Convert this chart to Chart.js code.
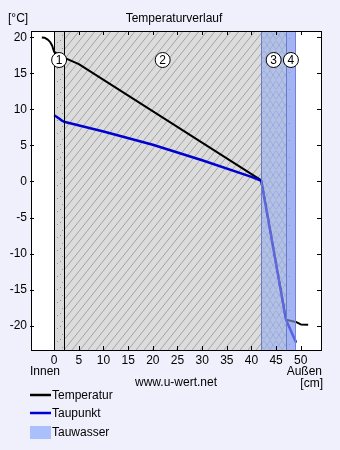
<!DOCTYPE html>
<html><head><meta charset="utf-8">
<script src="https://cdn.jsdelivr.net/npm/chart.js@4.4.0/dist/chart.umd.min.js"></script>
<style>html,body{margin:0;padding:0;background:#f0f0fc;}canvas{display:block;}</style>
</head><body>
<canvas id="c" width="340" height="450"></canvas>
<script>
// ---- texts ----
const chartTitle = 'Temperaturverlauf';
const yUnit = '[°C]';
const xUnit = '[cm]';
const insideLabel = 'Innen';
const outsideLabel = 'Außen';
const sourceLabel = 'www.u-wert.net';
const seriesNames = ['Temperatur', 'Taupunkt', 'Tauwasser'];

// ---- ticks ----
const xTicks = [0, 5, 10, 15, 20, 25, 30, 35, 40, 45, 50];
const yTicks = [-20, -15, -10, -5, 0, 5, 10, 15, 20];

// ---- layers (cm) ----
const layerBounds = [0, 2, 42, 47, 49];
const layerNames = ['1', '2', '3', '4'];
const tauwasserLayers = [2, 3]; // indices of layers with condensation

// ---- series ----
const tempX = [-2.5, -1.9, -1.3, -0.8, -0.4, -0.1, 0, 2, 5, 42, 47, 49, 49.3, 50, 51.5];
const tempY = [20.0, 19.95, 19.7, 19.35, 18.85, 18.2, 18.0, 17.2, 16.3, 0.15, -19.2, -19.5, -19.6, -19.85, -19.9];
const dewX = [0, 1, 1.6, 2, 10, 20, 30, 40, 42, 47, 49];
const dewY = [9.2, 8.75, 8.45, 8.3, 6.95, 5.1, 2.95, 0.65, 0.1, -19.2, -22.3];

const FONT = '"Liberation Sans", Arial, sans-serif';
Chart.defaults.font.family = FONT;
Chart.defaults.font.size = 12;
Chart.defaults.color = '#000';

const cv = document.getElementById('c');
const c2d = cv.getContext('2d');

function makePattern(w, h, draw) {
  const pc = document.createElement('canvas');
  pc.width = w; pc.height = h;
  const g = pc.getContext('2d');
  draw(g, w, h);
  return c2d.createPattern(pc, 'repeat');
}
const patDots1 = makePattern(11, 13, (g) => {
  g.fillStyle = '#d9d9d9'; g.fillRect(0, 0, 11, 13);
  g.fillStyle = '#959595';
  g.fillRect(2, 3, 1, 1); g.fillRect(7, 9, 1, 1); g.fillRect(5, 1, 1, 1); g.fillRect(9, 5, 1, 1);
});
const patHatch = makePattern(8, 10, (g, w, h) => {
  g.fillStyle = '#dcdcdc'; g.fillRect(0, 0, w, h);
  g.strokeStyle = '#8c8c8c'; g.lineWidth = 0.7;
  g.beginPath();
  for (let k = -1; k <= 1; k++) { g.moveTo(k * w - 1, h + h / w); g.lineTo(k * w + w + 1, -h / w); }
  g.stroke();
});
const patZig = makePattern(12, 10, (g, w, h) => {
  g.fillStyle = '#b4c2e2'; g.fillRect(0, 0, w, h);
  g.strokeStyle = 'rgba(130,150,228,0.6)'; g.lineWidth = 0.8;
  g.beginPath();
  g.moveTo(0, 0.5); g.lineTo(6, h - 0.5); g.lineTo(12, 0.5);
  g.moveTo(0, h - 0.5); g.lineTo(6, 0.5); g.lineTo(12, h - 0.5);
  g.stroke();
});
const patDots4 = makePattern(13, 17, (g) => {
  g.fillStyle = '#a4b4f2'; g.fillRect(0, 0, 13, 17);
  g.fillStyle = '#8494dc';
  g.fillRect(3, 4, 1, 1); g.fillRect(9, 12, 1, 1);
});
const layerFills = [patDots1, patHatch, patZig, patDots4];

function drawLayer(chart, i) {
  const { ctx, chartArea: a, scales: { x } } = chart;
  const x0 = x.getPixelForValue(layerBounds[i]);
  const x1 = x.getPixelForValue(layerBounds[i + 1]);
  ctx.fillStyle = layerFills[i];
  ctx.fillRect(x0, a.top, x1 - x0, a.bottom - a.top);
}
function vline(ctx, px, a, color) {
  ctx.strokeStyle = color; ctx.lineWidth = 1;
  ctx.beginPath(); ctx.moveTo(Math.round(px) + 0.5, a.top); ctx.lineTo(Math.round(px) + 0.5, a.bottom); ctx.stroke();
}

const deco = {
  id: 'deco',
  beforeDraw(chart) {
    const { ctx, width, height, chartArea: a } = chart;
    ctx.save();
    ctx.fillStyle = '#f0f0fc'; ctx.fillRect(0, 0, width, height);
    ctx.fillStyle = '#ffffff'; ctx.fillRect(a.left, a.top, a.right - a.left, a.bottom - a.top);
    ctx.restore();
  },
  beforeDatasetsDraw(chart) {
    const { ctx } = chart;
    ctx.save();
    for (let i = 0; i < layerNames.length; i++) drawLayer(chart, i);
    ctx.restore();
  },
  afterDatasetsDraw(chart) {
    const { ctx, chartArea: a, scales: { x, y } } = chart;
    ctx.save();
    // condensation layers veil the curves
    ctx.globalAlpha = 0.55;
    tauwasserLayers.forEach(i => drawLayer(chart, i));
    ctx.globalAlpha = 1;
    // layer borders
    vline(ctx, x.getPixelForValue(layerBounds[0]), a, '#000');
    vline(ctx, x.getPixelForValue(layerBounds[1]), a, '#000');
    vline(ctx, x.getPixelForValue(layerBounds[2]), a, '#6a7bc6');
    vline(ctx, x.getPixelForValue(layerBounds[3]), a, '#6a7bc6');
    vline(ctx, x.getPixelForValue(layerBounds[4]) - 1, a, '#6f84e0');
    // frame
    ctx.strokeStyle = '#000'; ctx.lineWidth = 1;
    ctx.strokeRect(a.left + 0.5, a.top + 0.5, a.right - a.left, a.bottom - a.top);
    // inward ticks
    ctx.beginPath();
    xTicks.forEach(v => {
      const p = Math.round(x.getPixelForValue(v)) + 0.5;
      ctx.moveTo(p, a.bottom); ctx.lineTo(p, a.bottom - 4);
      ctx.moveTo(p, a.top); ctx.lineTo(p, a.top + 4);
    });
    yTicks.forEach(v => {
      const p = Math.round(y.getPixelForValue(v)) + 0.5;
      ctx.moveTo(a.left - 1, p); ctx.lineTo(a.left + 3, p);
      ctx.moveTo(a.right + 1, p); ctx.lineTo(a.right - 4, p);
    });
    ctx.stroke();
    // layer number circles
    const cy = a.top + 29;
    ctx.font = '12px ' + FONT;
    ctx.textAlign = 'center'; ctx.textBaseline = 'middle';
    layerNames.forEach((n, i) => {
      const cx = x.getPixelForValue((layerBounds[i] + layerBounds[i + 1]) / 2);
      ctx.beginPath(); ctx.arc(cx, cy, 7.5, 0, Math.PI * 2);
      ctx.fillStyle = '#fff'; ctx.fill();
      ctx.strokeStyle = '#000'; ctx.lineWidth = 1; ctx.stroke();
      ctx.fillStyle = '#000'; ctx.fillText(n, cx, cy + 0.5);
    });
    ctx.restore();
  },
  afterDraw(chart) {
    const { ctx, chartArea: a } = chart;
    ctx.save();
    ctx.fillStyle = '#000';
    ctx.font = '12px ' + FONT;
    ctx.textBaseline = 'middle';
    ctx.textAlign = 'center';
    ctx.fillText(chartTitle, 174, 19);
    ctx.fillText(sourceLabel, (a.left + a.right) / 2, 383);
    ctx.textAlign = 'left';
    ctx.fillText(yUnit, 8, 19);
    ctx.fillText(insideLabel, 30, 372);
    ctx.textAlign = 'right';
    ctx.fillText(outsideLabel, a.right + 1, 372);
    ctx.fillText(xUnit, a.right + 2, 384);
    // legend
    ctx.textAlign = 'left';
    const ds = chart.data.datasets;
    const ly = [395, 413];
    ds.forEach((d, i) => {
      ctx.strokeStyle = d.borderColor; ctx.lineWidth = 2.5;
      ctx.beginPath(); ctx.moveTo(30, ly[i]); ctx.lineTo(51, ly[i]); ctx.stroke();
      ctx.fillStyle = '#000'; ctx.fillText(d.label, 52, ly[i] + 0.5);
    });
    ctx.fillStyle = '#aac0fc';
    ctx.fillRect(30, 426, 21, 13);
    ctx.fillStyle = '#000';
    ctx.fillText(seriesNames[2], 52, 432.5);
    ctx.restore();
  }
};

new Chart(cv, {
  type: 'line',
  data: {
    datasets: [
      {
        label: seriesNames[0],
        data: tempX.map((v, i) => ({ x: v, y: tempY[i] })),
        borderColor: '#000000', borderWidth: 2, pointRadius: 0, tension: 0,
        borderJoinStyle: 'round', order: 1
      },
      {
        label: seriesNames[1],
        data: dewX.map((v, i) => ({ x: v, y: dewY[i] })),
        borderColor: '#0000d0', borderWidth: 2.5, tension: 0,
        borderJoinStyle: 'round', order: 0,
        pointRadius: (c) => c.dataIndex === dewX.length - 1 ? 1.2 : 0,
        pointStyle: 'rect', pointBackgroundColor: '#1a1aff', pointBorderWidth: 0
      }
    ]
  },
  options: {
    responsive: false,
    animation: false,
    devicePixelRatio: 1,
    layout: { padding: { top: 31, right: 19, bottom: 0, left: 0 } },
    plugins: { legend: { display: false }, tooltip: { enabled: false }, title: { display: false } },
    scales: {
      x: {
        type: 'linear', min: -4.7, max: 54.1,
        grid: { display: false, drawTicks: false }, border: { display: false },
        afterBuildTicks: (ax) => { ax.ticks = xTicks.map(v => ({ value: v })); },
        afterFit: (ax) => { ax.height = 100; },
        ticks: { autoSkip: false, maxRotation: 0, padding: 3, color: '#000', font: { size: 12 } }
      },
      y: {
        type: 'linear', min: -23.4, max: 20.9,
        grid: { display: false, drawTicks: false }, border: { display: false },
        afterBuildTicks: (ax) => { ax.ticks = yTicks.map(v => ({ value: v })); },
        afterFit: (ax) => { ax.width = 31; },
        ticks: { autoSkip: false, padding: 4, color: '#000', font: { size: 12 } }
      }
    }
  },
  plugins: [deco]
});
</script>
</body></html>
